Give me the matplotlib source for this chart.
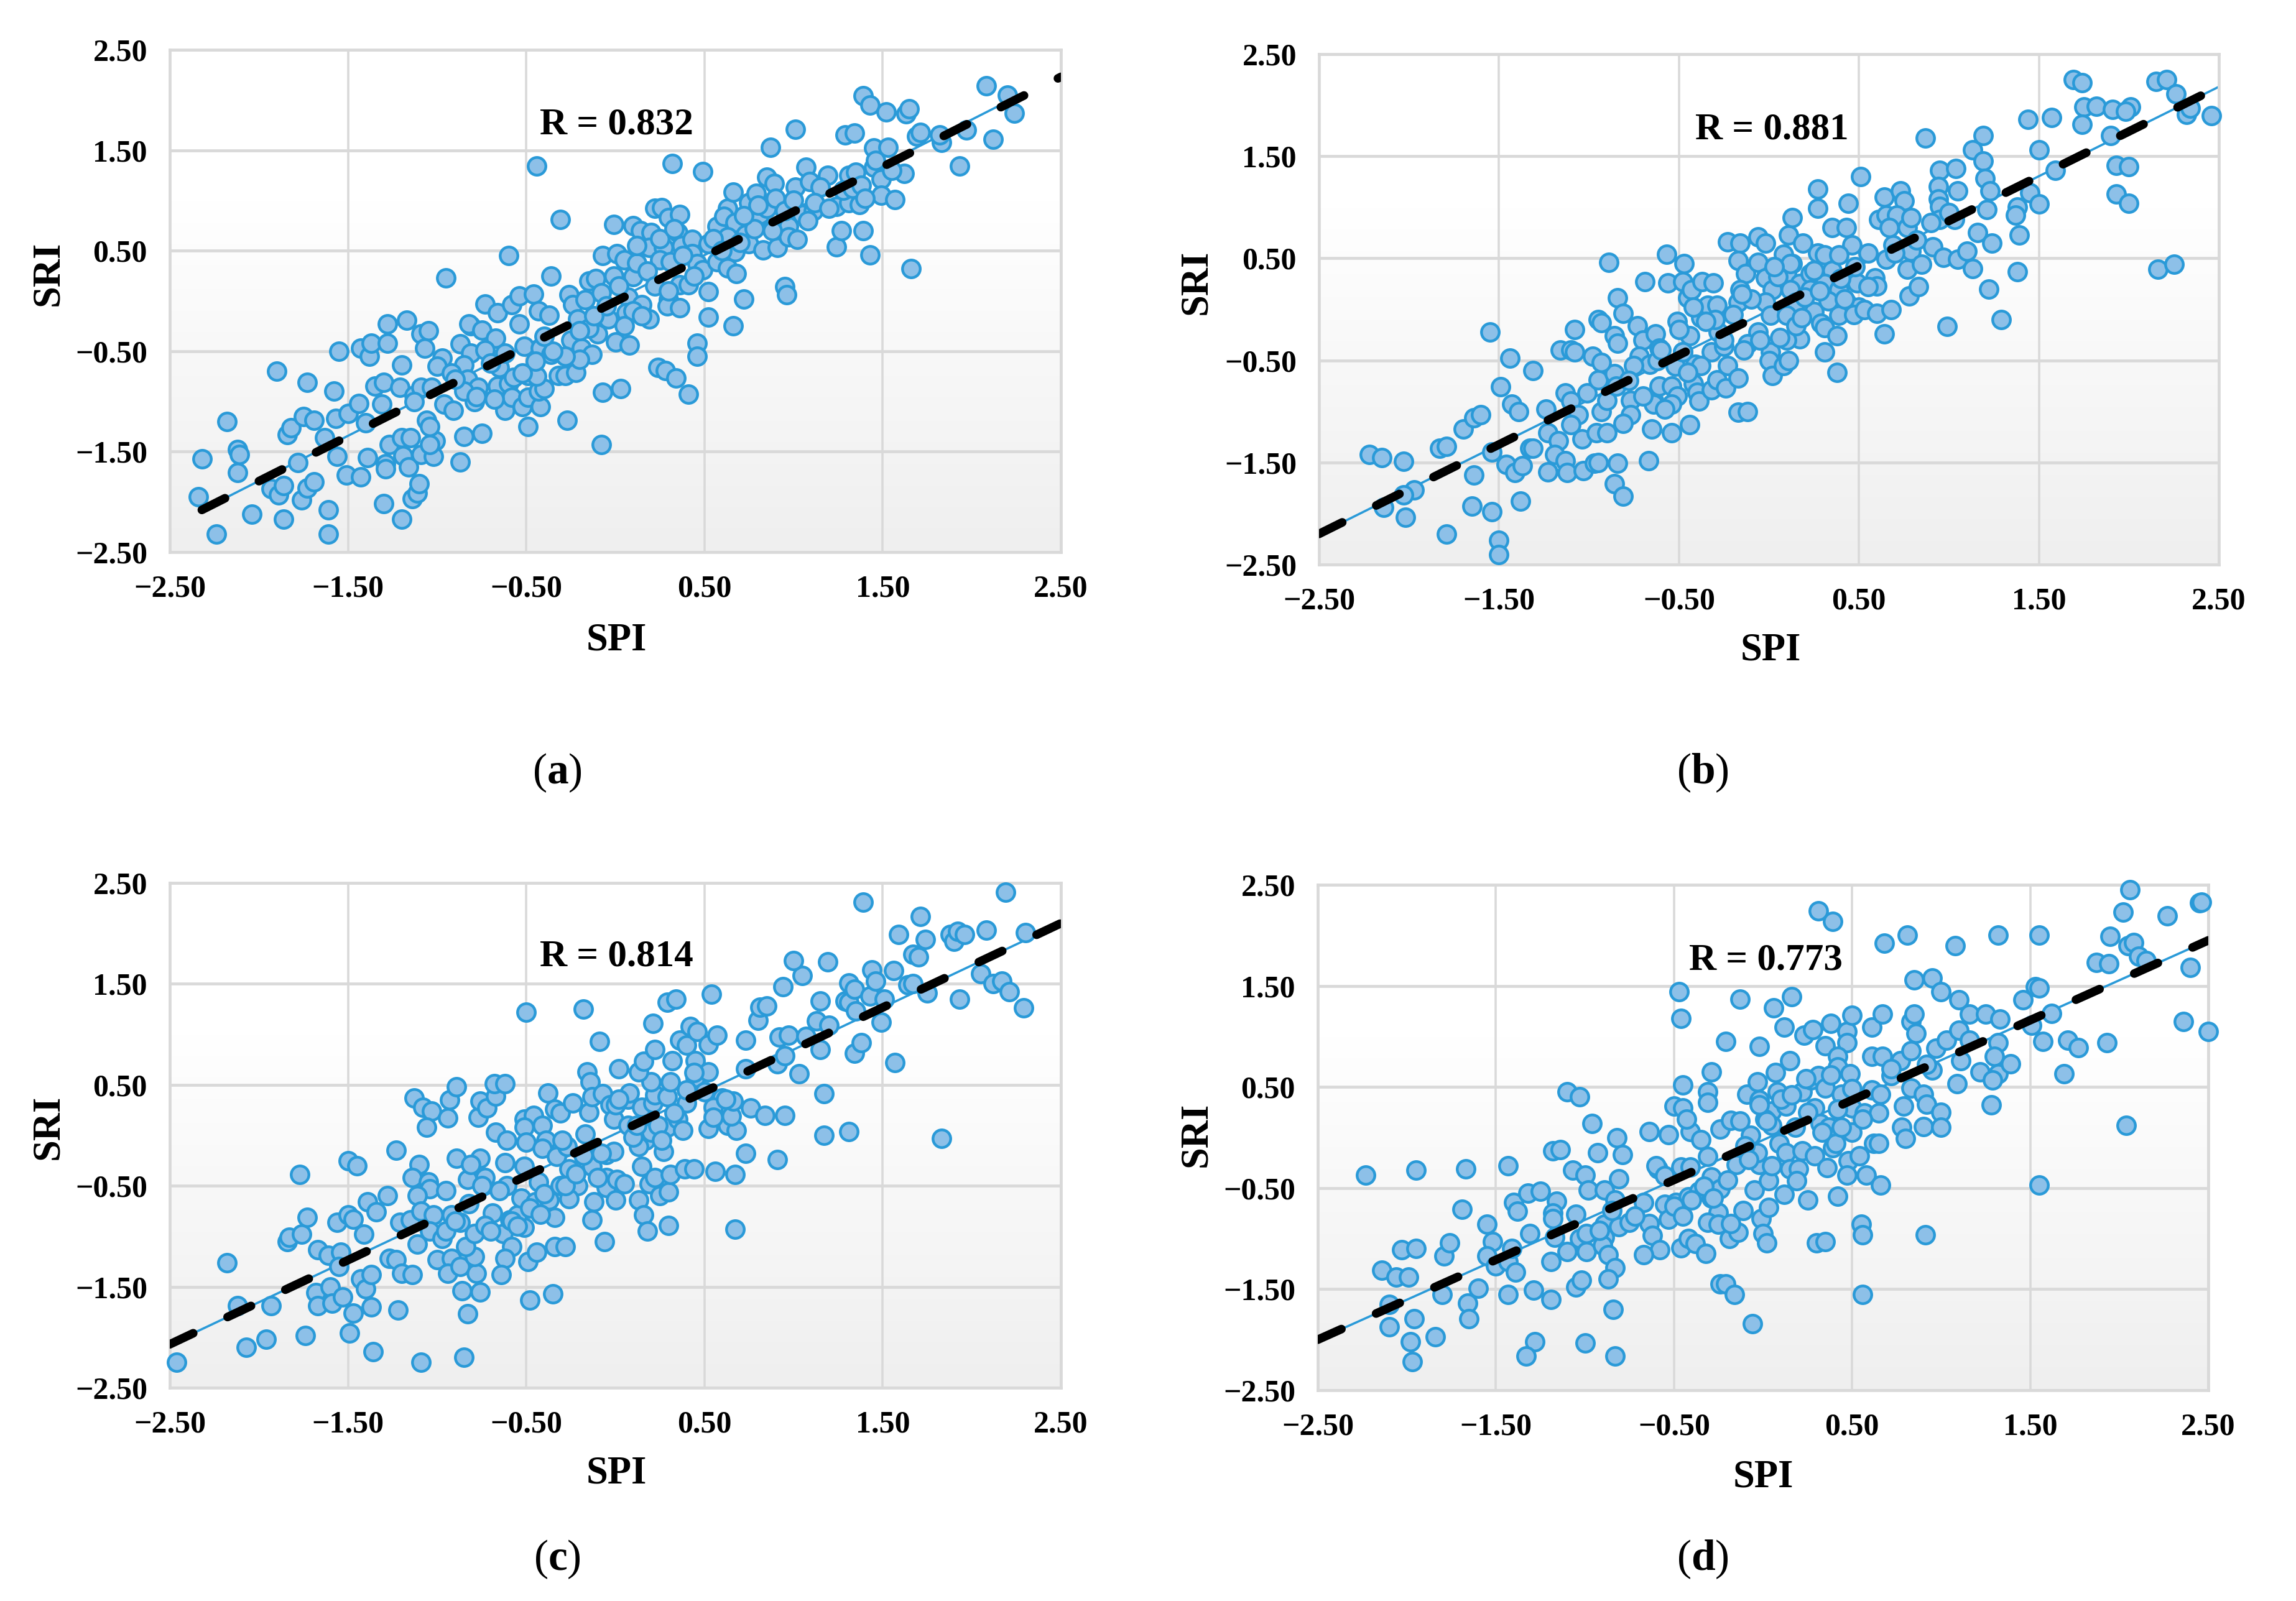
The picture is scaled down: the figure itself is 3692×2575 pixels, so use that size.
# SPI vs SRI scatter panels
import numpy as np
import matplotlib
matplotlib.use('Agg')
import matplotlib.pyplot as plt
from matplotlib.colors import LinearSegmentedColormap

plt.rcParams['font.family'] = ['Liberation Serif', 'DejaVu Serif']
plt.rcParams['mathtext.fontset'] = 'custom'
plt.rcParams['mathtext.rm'] = 'Liberation Serif'
plt.rcParams['mathtext.bf'] = 'Liberation Serif:bold'

W = 3692
H = 2575

# Values
A_SPI = [-2.32,-2.34,-2.24,-2.18,-2.12,-2.11,-2.12,-2.04,-1.93,-1.89,-1.86,-1.86,-1.90,-1.73,-1.84,-1.82,-1.75,-1.69,-1.78,-1.76,
         -1.73,-1.69,-1.61,-1.61,-1.63,-1.58,-1.57,-1.55,-1.56,-1.50,-1.51,-1.43,-1.44,-1.43,-1.38,-1.37,-1.40,-1.39,-1.35,-1.30,
         -1.31,-1.28,-1.28,-1.17,-1.20,-1.21,-1.27,-1.20,-1.15,-1.19,-1.29,-1.29,-1.16,-1.30,-1.20,-1.14,-1.11,-1.10,-1.09,-1.02,
         -1.01,-1.04,-1.06,-1.04,-1.13,-1.09,-1.03,-1.13,-1.09,-1.05,-1.07,-0.97,-1.00,-0.95,-0.96,-0.91,-0.85,-0.87,-0.75,-0.79,
         -0.81,-0.82,-0.75,-0.73,-0.66,-0.67,-0.87,-0.81,-0.85,-0.92,-0.83,-0.77,-0.85,-0.73,-0.65,-0.66,-0.60,-0.57,-0.62,-0.58,
         -0.52,-0.49,-0.42,-0.43,-0.40,-0.49,-0.44,-0.49,-0.27,-0.60,-0.58,-0.54,-0.46,-0.44,-0.54,-0.51,-0.43,-0.36,-0.37,-0.42,
         -0.36,-0.31,-0.32,-0.28,-0.22,-0.26,-0.24,-0.17,-0.21,-0.25,-0.19,-0.13,-0.20,-0.10,-0.15,-0.04,-0.15,-0.11,-0.08,-0.01,
         -0.07,0.01,-0.01,0.10,0.05,0.10,0.07,0.15,0.06,0.10,0.19,0.00,0.08,-0.07,0.03,-0.08,0.24,0.28,0.34,0.41,
         0.46,0.46,0.52,0.52,0.66,0.72,0.95,0.96,0.32,0.49,0.22,0.26,0.30,0.36,0.14,0.20,0.35,0.19,0.27,0.37,
         0.43,0.43,0.52,0.25,0.31,0.46,0.49,0.57,0.63,0.68,0.36,0.41,0.30,0.29,0.36,0.61,0.57,0.63,0.61,0.67,
         0.66,0.73,0.75,0.67,0.63,0.75,0.79,0.81,0.83,0.91,0.85,0.89,0.87,1.01,1.01,0.97,0.97,1.02,1.05,1.07,
         1.09,1.19,1.15,1.11,1.24,1.24,1.27,1.39,1.43,1.31,1.37,1.31,1.35,1.45,1.29,1.34,1.39,1.43,1.52,1.63,
         1.65,1.45,1.53,1.49,1.49,1.57,1.62,1.66,1.69,1.71,1.83,1.82,1.97,1.93,2.08,2.12,2.20,2.24,
         0.55,0.60,0.70,0.78,0.85,0.90,0.95,1.00,0.72,0.80,0.88,1.08,1.12,1.20,1.28,1.33,1.38,1.40,1.46,1.55,
         0.02,0.12,0.18,0.22,0.30,0.15,0.05,-0.05,-0.12,-0.20,-0.28,-0.35,-0.45,-0.52,-0.62,-0.70,-0.78,-0.90,-0.68,-0.40,
         0.38,0.44,0.25,0.33,0.12]
A_SRI = [-1.57,-1.95,-2.32,-1.20,-1.48,-1.53,-1.71,-2.12,-1.87,-1.93,-1.84,-2.17,-0.70,-0.81,-1.33,-1.26,-1.15,-1.19,-1.61,-1.98,
         -1.86,-1.80,-2.08,-2.32,-1.36,-0.90,-1.17,-0.50,-1.55,-1.12,-1.73,-1.75,-1.02,-0.47,-0.55,-0.42,-1.21,-1.56,-0.85,-0.81,
         -1.03,-0.42,-0.23,-0.19,-0.64,-0.86,-1.43,-1.36,-1.36,-1.54,-1.62,-1.67,-1.65,-2.02,-2.17,-1.97,-1.91,-1.82,-1.53,-1.55,
         -1.39,-1.43,-1.19,-1.25,-0.94,-0.86,-0.86,-1.00,-0.33,-0.30,-0.47,-0.57,-0.65,0.23,-1.03,-1.09,-1.35,-1.60,-1.32,-1.00,
         -0.25,-0.23,-0.29,-0.03,-0.12,-0.37,-0.43,-0.52,-0.64,-0.72,-0.78,-0.86,-0.90,-0.49,-0.66,-0.85,-0.82,-0.76,-1.09,-0.96,
         -1.05,-0.96,-1.05,-0.90,-0.87,-0.74,-0.75,-1.25,-1.19,0.45,-0.04,0.05,0.07,1.34,-0.23,-0.45,-0.10,0.25,-0.14,-0.47,
         -0.53,0.81,-0.74,-0.74,-0.71,0.06,-0.04,0.01,-0.18,-0.39,-0.47,-0.53,-0.58,-0.33,-0.27,-0.18,0.20,0.22,0.08,0.25,
         0.45,0.47,0.76,0.75,0.41,0.24,0.04,-0.04,-0.12,-0.10,-0.18,-0.41,-0.44,-0.91,-0.87,-1.43,-0.66,-0.69,-0.77,-0.93,
         -0.42,-0.55,-0.16,0.09,-0.25,0.02,0.14,0.06,1.37,1.29,0.92,0.93,0.83,0.86,0.70,0.68,0.68,0.53,0.53,0.55,
         0.61,0.47,0.57,0.41,0.39,0.37,0.31,0.39,0.33,0.27,0.16,0.16,0.01,-0.05,-0.07,0.74,0.74,0.92,0.84,0.78,
         1.08,0.66,0.57,0.49,0.64,0.98,1.07,0.86,0.51,0.53,1.23,1.17,1.53,1.71,1.13,0.74,0.64,0.61,0.86,1.33,
         1.19,1.25,1.13,0.90,0.94,0.54,0.70,0.70,0.46,0.98,0.96,1.25,1.28,1.33,1.65,1.67,2.04,1.95,1.88,1.86,
         1.91,1.52,1.53,1.21,1.05,1.01,1.27,0.32,1.64,1.68,1.58,1.65,1.70,1.34,2.14,1.61,2.05,1.87,
         0.62,0.50,0.58,0.72,0.92,1.02,0.90,1.00,0.85,0.95,0.70,0.80,0.98,0.92,1.10,1.12,1.15,1.02,1.40,1.30,
         0.15,0.38,0.30,0.15,0.10,-0.15,-0.25,-0.05,-0.15,-0.30,-0.55,-0.50,-0.60,-0.72,-0.52,-0.62,-0.95,-0.78,-0.98,-0.35,
         0.45,0.25,0.62,0.72,0.55]

B_SPI = [-2.22,-2.15,-2.03,-1.97,-2.03,-2.14,-2.02,-1.79,-1.83,-1.79,-1.70,-1.64,-1.60,-1.55,-1.64,-1.65,-1.54,-1.50,-1.50,-1.54,
         -1.46,-1.41,-1.37,-1.38,-1.49,-1.43,-1.39,-1.44,-1.31,-1.33,-1.31,-1.24,-1.23,-1.17,-1.19,-1.23,-1.13,-1.12,-1.03,-0.97,
         -0.95,-0.84,-0.67,-0.86,-0.81,-1.16,-1.10,-1.08,-1.08,-1.13,-1.10,-1.01,-1.06,-1.10,-1.04,-0.96,-0.90,-0.93,-0.90,-0.95,
         -0.86,-0.98,-0.93,-0.95,-0.93,-0.89,-0.84,-0.81,-0.86,-0.84,-0.73,-0.69,-0.70,-0.72,-0.66,-0.77,-0.77,-0.81,-0.65,-0.64,
         -0.64,-0.61,-0.54,-0.51,-0.54,-0.54,-0.44,-0.63,-0.61,-0.62,-0.51,-0.57,-0.56,-0.47,-0.48,-0.45,-0.43,-0.44,-0.48,-0.52,
         -0.41,-0.42,-0.40,-0.39,-0.38,-0.37,-0.31,-0.34,-0.29,-0.28,-0.32,-0.25,-0.32,-0.29,-0.23,-0.24,-0.17,-0.17,-0.12,-0.23,
         -0.16,-0.17,-0.13,-0.16,-0.17,-0.06,-0.06,-0.02,-0.02,0.02,-0.02,0.01,-0.06,-0.12,-0.14,0.01,0.00,0.02,0.08,0.11,
         0.08,0.11,0.13,0.19,0.13,0.10,0.17,0.12,0.15,0.10,0.17,0.10,0.15,0.27,0.27,0.27,0.31,0.23,0.35,0.23,
         0.31,0.25,0.29,0.31,0.38,0.31,0.38,0.35,0.43,0.44,0.46,0.39,0.51,0.55,0.49,0.39,0.43,0.50,0.39,0.47,
         0.53,0.60,0.68,0.64,0.59,0.60,0.65,0.69,0.61,0.65,0.64,0.73,0.75,0.71,0.67,0.77,0.79,0.79,0.77,0.78,
         0.83,0.85,0.87,0.91,0.95,0.94,0.94,0.95,0.95,0.97,0.99,1.04,1.05,1.03,1.05,1.10,1.13,1.13,1.19,1.19,
         1.20,1.23,1.21,1.16,1.24,1.22,1.29,1.38,1.37,1.39,1.38,1.44,1.45,1.50,1.50,1.57,1.59,1.69,1.74,1.75,
         1.74,1.82,1.91,1.90,1.93,2.00,1.93,2.00,2.01,1.98,2.15,2.21,2.26,2.16,2.25,2.32,2.34,2.46,
         -0.85,-0.75,-0.60,-0.50,-0.38,-0.30,-0.20,-0.10,-0.05,0.05,0.12,0.20,0.25,0.33,0.40,0.48,0.55,-0.70,-0.58,-0.45,
         -0.25,-0.35,0.06,0.18,0.28,0.42,0.70,0.82,0.90,1.00,-0.78,-0.48,-0.15,0.03,-0.42]
B_SRI = [-1.42,-1.45,-1.49,-1.77,-1.82,-1.94,-2.04,-2.20,-1.36,-1.34,-1.17,-1.06,-1.03,-0.22,-1.62,-1.93,-1.98,-2.26,-2.40,-1.40,
         -1.52,-1.60,-1.53,-1.88,-0.76,-0.93,-1.00,-0.48,-0.60,-1.36,-1.36,-0.98,-1.21,-1.29,-1.42,-1.59,-1.48,-1.60,-1.58,-1.51,
         -1.50,-1.51,-1.48,-1.71,-1.83,-0.40,-0.40,-0.42,-0.20,-0.82,-0.90,-0.82,-1.03,-1.13,-1.27,-1.21,-1.21,-1.00,-0.89,-0.69,
         -0.63,-0.46,-0.52,-0.10,-0.13,0.46,0.11,-0.04,-0.26,-0.33,-0.16,0.27,-0.30,-0.46,-0.54,-0.89,-1.03,-1.12,-1.17,-0.89,
         -0.93,-0.75,-0.75,-0.85,-0.93,-1.21,-1.13,-0.24,-0.38,-0.50,-0.12,0.54,0.26,0.45,0.27,0.11,0.19,-0.26,-0.42,-0.56,
         -0.54,-0.73,-0.81,-0.90,-0.08,0.27,0.26,0.04,0.04,-0.22,-0.42,-0.36,-0.79,-0.69,-0.55,-0.77,-0.67,-1.01,-1.00,0.66,
         0.65,0.48,0.35,0.19,0.07,0.46,0.71,0.65,0.31,0.19,0.07,-0.06,-0.22,-0.34,-0.40,-0.42,-0.50,-0.65,-0.55,-0.50,
         0.54,0.73,0.90,0.65,0.45,0.35,0.25,0.19,0.07,-0.06,-0.29,-0.30,-0.16,0.99,1.18,0.55,0.53,0.35,0.38,0.19,
         0.25,-0.02,-0.14,-0.18,-0.26,-0.42,-0.62,0.80,0.80,1.04,0.63,0.53,1.30,0.55,0.26,0.19,0.07,0.02,-0.06,-0.05,
         0.00,-0.04,0.00,-0.24,0.31,0.23,0.49,0.63,0.88,0.92,1.10,1.16,1.06,0.92,0.80,0.80,0.90,0.57,0.39,0.13,
         0.22,0.44,1.68,0.61,1.36,1.20,1.08,1.01,0.88,0.51,-0.17,1.38,1.16,0.88,0.49,0.57,0.40,1.56,1.70,1.45,
         1.28,1.16,0.98,0.75,0.65,0.20,-0.10,1.00,0.92,0.73,0.37,1.86,1.14,1.03,1.56,1.88,1.36,2.25,2.22,1.98,
         1.81,1.99,1.96,1.70,1.41,1.40,1.13,1.04,1.98,1.94,2.23,2.25,2.11,0.39,0.44,1.91,1.97,1.90,
         -0.75,-0.55,-0.40,-0.20,-0.55,-0.10,-0.05,0.10,-0.30,0.32,0.45,0.12,0.38,0.08,0.30,0.42,0.22,-0.85,-0.98,-0.62,
         -0.30,-0.12,-0.28,-0.08,0.18,0.10,0.55,0.68,0.85,0.95,-0.70,-0.42,0.15,0.42,0.02]

C_SPI = [-2.46,-2.18,-2.12,-1.93,-2.07,-1.96,-1.77,-1.84,-1.83,-1.76,-1.73,-1.74,-1.67,-1.61,-1.68,-1.67,-1.60,-1.59,-1.53,-1.56,
         -1.50,-1.47,-1.50,-1.45,-1.54,-1.55,-1.49,-1.47,-1.41,-1.43,-1.40,-1.37,-1.37,-1.36,-1.39,-1.34,-1.28,-1.27,-1.23,-1.20,
         -1.14,-1.22,-1.23,-1.13,-1.08,-1.03,-1.06,-0.93,-0.89,-0.94,-1.10,-1.14,-1.05,-1.04,-1.11,-0.95,-1.21,-1.15,-1.09,-1.02,
         -1.11,-1.04,-0.97,-1.00,-0.92,-0.94,-0.87,-1.09,-0.85,-0.83,-0.86,-0.76,-0.78,-0.79,-0.84,-0.79,-0.87,-0.92,-0.83,-0.89,
         -0.76,-0.73,-0.81,-0.77,-0.76,-0.72,-0.67,-0.68,-0.62,-0.67,-0.61,-0.62,-0.61,-0.69,-0.73,-0.63,-0.59,-0.58,-0.62,-0.64,
         -0.49,-0.44,-0.48,-0.35,-0.51,-0.55,-0.53,-0.50,-0.51,-0.46,-0.51,-0.41,-0.50,-0.39,-0.41,-0.51,-0.43,-0.45,-0.37,-0.34,
         -0.34,-0.28,-0.38,-0.34,-0.31,-0.24,-0.18,-0.33,-0.27,-0.26,-0.31,-0.21,-0.26,-0.15,-0.16,-0.14,-0.13,-0.17,-0.13,-0.05,
         -0.01,-0.09,0.02,-0.07,-0.03,-0.01,0.07,-0.12,-0.13,-0.06,-0.05,-0.05,0.01,0.05,0.00,0.13,0.16,0.18,0.30,0.67,
         0.15,0.19,0.22,0.25,0.30,0.31,0.39,0.44,0.56,0.67,0.73,0.91,0.27,0.17,0.13,0.20,0.29,0.35,0.07,0.15,
         0.21,0.22,0.29,0.20,0.31,0.13,0.16,0.22,0.21,0.29,0.34,0.32,0.36,0.40,0.42,0.46,0.45,0.45,0.52,0.40,
         0.50,0.52,0.57,0.54,0.52,0.63,0.68,0.65,0.66,0.60,0.55,0.76,0.84,0.95,0.73,0.73,0.80,0.81,0.85,0.92,
         0.97,0.91,0.95,1.03,0.94,1.05,1.00,1.19,1.17,1.17,1.31,1.15,1.13,1.20,1.15,1.07,1.34,1.38,1.29,1.31,
         1.31,1.34,1.35,1.43,1.49,1.39,1.44,1.46,1.51,1.56,1.57,1.59,1.64,1.67,1.67,1.70,1.71,1.74,1.75,1.83,
         1.88,1.90,1.92,1.96,1.93,2.05,2.08,2.12,2.17,2.21,2.19,2.29,2.30,
         -0.95,-0.82,-0.70,-0.58,-0.48,-0.40,-0.28,-0.18,-0.08,0.00,0.08,0.10,0.24,0.33,0.40,-0.55,-0.65,-0.42,-0.22,0.12,
         0.26,0.38,-0.90,-0.75,0.44,-0.10,0.02,-0.30,0.55,0.62]
C_SRI = [-2.25,-1.26,-1.69,-1.69,-2.10,-2.02,-0.39,-1.05,-1.01,-0.98,-0.81,-1.98,-1.13,-1.19,-1.56,-1.69,-1.50,-1.66,-1.60,-0.86,
         -0.79,-0.83,-0.25,-0.30,-1.16,-1.30,-1.96,-1.76,-0.98,-1.42,-1.52,-1.38,-1.70,-2.14,-0.66,-0.76,-0.60,-1.22,-1.23,-1.37,
         -1.38,-1.73,-0.15,0.37,0.28,0.24,0.08,0.35,0.48,0.17,-0.29,-0.42,-0.46,-0.53,-0.60,-0.55,-0.86,-0.84,-0.75,-0.79,
         -1.08,-0.95,-1.02,-1.23,-1.22,-1.37,-1.30,-2.25,-2.20,-1.77,-1.54,-1.55,-1.37,-1.20,-1.10,-0.97,-0.86,-0.79,-0.44,-0.23,
         -0.23,-0.42,-0.29,0.18,0.34,0.27,0.39,0.51,0.51,0.03,-0.05,-0.27,-0.50,-0.77,-0.89,-0.97,-0.84,-1.10,-1.22,-1.38,
         -1.25,-1.16,-1.63,-1.57,-0.91,-0.79,-0.62,1.22,0.16,0.20,0.08,0.10,-0.07,-0.05,-0.13,-0.31,-0.46,-0.66,-0.64,-0.81,
         -1.10,-1.10,0.42,0.26,0.22,0.32,1.25,-0.21,-0.11,-0.33,-0.50,-0.50,-0.63,0.23,0.63,0.53,0.38,0.01,-0.31,-0.19,
         -0.16,0.93,0.66,0.41,0.30,0.16,0.10,-0.66,-0.84,-1.05,-0.42,-0.52,-0.44,-0.48,-0.64,-0.64,-0.79,-0.95,-0.89,-0.93,
         -0.31,-0.48,-0.42,-0.60,-0.56,-0.39,-0.33,-0.33,-0.36,-0.39,-0.18,-0.24,-0.16,-0.05,-0.11,0.03,0.08,0.16,0.36,0.28,
         0.32,0.40,0.38,0.53,0.53,0.63,0.73,0.85,1.11,1.32,1.35,0.74,0.94,0.89,1.08,1.03,0.74,0.57,0.63,0.32,
         0.43,0.90,0.99,1.40,0.07,0.10,0.05,0.19,0.34,0.37,0.28,0.27,0.20,0.20,0.66,0.94,1.14,1.27,1.28,0.97,
         0.99,0.71,0.79,0.61,1.47,1.58,1.73,1.72,0.41,0.00,0.04,1.33,1.13,1.09,0.85,0.98,0.81,0.92,1.33,1.32,
         1.51,1.45,1.23,1.38,1.12,2.31,1.64,1.53,1.35,1.63,0.72,1.99,1.49,1.50,1.79,1.77,2.17,1.94,1.41,-0.03,
         1.99,1.92,2.02,1.99,1.35,1.60,2.03,1.50,1.53,1.42,2.41,1.26,2.01,
         -0.95,-0.68,-0.95,-0.85,-0.72,-0.58,-0.50,-0.20,-0.18,0.30,0.42,-0.02,0.10,0.22,0.45,-0.90,-0.55,-0.78,-0.38,0.10,
         -0.05,0.05,-0.85,-0.50,0.62,-0.42,0.36,-0.05,0.18,0.36]

D_SPI = [-2.23,-1.95,-1.67,-1.43,-2.14,-2.06,-1.99,-2.03,-1.95,-2.10,-2.10,-1.96,-1.98,-1.97,-1.84,-1.80,-1.79,-1.76,-1.69,-1.66,
         -1.65,-1.60,-1.55,-1.52,-1.55,-1.50,-1.43,-1.41,-1.39,-1.43,-1.40,-1.38,-1.32,-1.25,-1.31,-1.29,-1.19,-1.19,-1.28,-1.33,
         -1.16,-1.18,-1.18,-1.14,-1.18,-1.17,-1.10,-1.10,-1.03,-1.07,-1.00,-0.98,-1.05,-1.03,-0.99,-0.99,-1.05,-1.02,-1.00,-0.96,
         -0.93,-0.89,-0.82,-0.79,-0.81,-0.83,-0.89,-0.81,-0.89,-0.90,-0.87,-0.83,-0.87,-0.84,-0.83,-0.75,-0.67,-0.64,-0.53,-0.64,
         -0.62,-0.58,-0.67,-0.59,-0.55,-0.53,-0.49,-0.46,-0.42,-0.38,-0.32,-0.50,-0.45,-0.45,-0.47,-0.46,-0.41,-0.43,-0.35,-0.31,
         -0.29,-0.31,-0.21,-0.13,-0.46,-0.41,-0.42,-0.36,-0.29,-0.31,-0.29,-0.24,-0.25,-0.31,-0.25,-0.19,-0.14,-0.24,-0.21,-0.16,
         -0.06,-0.24,-0.18,-0.13,-0.15,-0.11,-0.01,0.03,0.00,0.02,-0.05,0.03,-0.02,-0.03,-0.07,-0.09,-0.03,-0.02,0.08,0.06,
         0.16,0.12,-0.02,0.07,0.15,0.05,0.13,0.05,0.01,0.09,0.13,0.15,0.20,0.19,0.12,0.25,0.22,0.29,0.36,0.39,
         0.48,0.47,0.42,0.54,0.58,0.66,0.62,0.65,0.30,0.35,0.55,0.56,0.56,0.91,1.55,0.22,0.27,0.31,0.35,0.29,
         0.32,0.37,0.41,0.44,0.50,0.50,0.31,0.39,0.23,0.28,0.35,0.38,0.47,0.47,0.50,0.42,0.42,0.49,0.61,0.67,
         0.61,0.67,0.61,0.66,0.57,0.65,0.68,0.72,0.79,0.78,0.80,0.81,0.77,0.83,0.83,0.83,0.85,0.86,0.85,0.90,
         0.92,0.90,0.95,1.00,1.00,1.00,0.97,0.95,1.08,1.10,1.09,1.11,1.03,1.10,1.16,1.25,1.16,1.22,1.32,1.33,
         1.32,1.30,1.32,1.29,1.28,1.39,1.46,1.53,1.55,1.55,1.51,1.57,1.62,1.69,1.71,1.77,1.87,1.94,1.93,1.95,
         2.02,2.06,2.04,2.05,2.08,2.11,2.15,2.27,2.36,2.40,2.45,2.46,2.50,
         -0.92,-0.72,-0.60,-0.50,-0.40,-0.33,-0.20,-0.10,-0.02,0.10,0.18,0.25,0.33,0.42,0.50,0.56,-0.85,-0.55,-0.28,-0.08,
         0.02,0.16,0.24,0.38,0.72,0.92,-0.45,-0.18,0.05,0.44]
D_SRI = [-0.37,-0.32,-0.31,-0.28,-1.31,-1.38,-1.38,-1.11,-1.10,-1.65,-1.87,-1.79,-2.02,-2.22,-1.97,-1.55,-1.17,-1.04,-0.71,-1.64,
         -1.79,-1.49,-0.86,-1.03,-1.17,-1.27,-1.23,-1.10,-1.33,-1.55,-0.64,-0.73,-0.55,-0.53,-0.95,-1.51,-1.23,-1.60,-2.02,-2.16,
         -0.63,-0.75,-0.13,-0.12,-0.80,-0.99,-1.13,0.45,0.40,-0.32,-0.37,-0.52,-0.76,-1.00,-1.13,-0.95,-1.48,-1.41,-2.03,0.14,
         -0.15,-0.52,0.00,-0.17,-0.41,-0.62,-0.86,-0.88,-0.99,-1.07,-1.16,-1.29,-1.40,-1.70,-2.16,-0.84,-0.64,0.06,0.03,-0.85,
         -0.97,-1.11,-1.16,-0.31,-0.66,-0.81,-0.64,-1.09,-1.00,-1.05,-1.15,0.31,0.29,0.52,1.44,1.18,0.06,0.18,-0.02,0.45,
         0.65,0.35,0.95,1.37,-0.29,-0.29,-0.59,-0.53,-0.60,-0.19,-0.39,-0.51,-0.74,-0.84,-0.86,-1.00,-0.94,-1.45,-1.45,-1.55,
         -1.84,0.08,0.17,0.16,-0.27,-0.72,-0.80,-0.69,-0.95,-1.04,-0.52,-0.43,-0.27,-0.15,0.02,0.43,0.55,0.37,0.45,1.28,
         1.39,1.09,0.90,0.64,0.76,0.26,0.31,0.12,0.18,-0.06,-0.15,-0.31,-0.31,-0.43,-0.56,-0.62,-0.13,-0.18,-0.30,-0.10,
         -0.23,-0.37,-0.58,-0.18,-0.37,-0.47,-0.06,-0.06,-1.04,-1.03,-0.86,-0.96,-1.55,-0.96,-0.47,0.45,0.57,0.61,0.49,0.29,
         0.14,0.10,-0.06,0.43,0.29,0.05,2.24,2.14,1.01,1.07,0.91,1.13,1.05,0.94,1.21,0.80,0.70,0.63,1.09,1.22,
         0.80,0.80,0.47,0.43,0.24,0.24,1.92,0.61,0.31,0.10,-0.01,2.00,0.76,0.86,0.49,1.15,1.22,1.03,1.56,0.43,
         0.33,0.11,1.58,1.44,0.25,0.10,0.88,0.67,1.90,1.36,0.53,0.76,0.96,1.06,1.22,1.22,0.96,0.65,2.00,1.17,
         0.94,0.80,0.63,0.57,0.32,0.73,1.36,1.49,1.48,2.00,1.11,0.95,1.23,0.63,0.96,0.89,1.73,1.72,0.94,1.99,
         2.23,2.45,0.12,1.90,1.93,1.79,1.75,2.19,1.15,1.68,2.32,2.33,1.05,
         -0.92,-0.78,-0.28,-0.68,-0.62,-0.48,-0.42,-0.08,0.32,0.38,0.10,0.25,0.05,0.28,0.48,0.18,-0.72,-0.38,-0.60,-0.22,
         0.16,0.42,0.58,0.62,0.68,0.72,-0.78,-0.85,-0.28,0.10]

FIT_X = [[-2.32, 2.25], [-2.50, 2.50], [-2.50, 2.50], [-2.50, 2.50]]
FIT_Y = [[-2.08, 2.03], [-2.20, 2.18], [-2.07, 2.10], [-2.00, 1.95]]
DASH_X = [[-2.32, 2.50], [-2.50, 2.50], [-2.50, 2.50], [-2.50, 2.50]]
DASH_Y = [[-2.08, 2.23], [-2.20, 2.18], [-2.07, 2.10], [-2.00, 1.95]]

R_LABELS = ['R = 0.832', 'R = 0.881', 'R = 0.814', 'R = 0.773']
CAPTIONS = ['a', 'b', 'c', 'd']
TICKS = [-2.5, -1.5, -0.5, 0.5, 1.5, 2.5]
TICK_LABELS = ['\u22122.50', '\u22121.50', '\u22120.50', '0.50', '1.50', '2.50']

SPI_ALL = [A_SPI, B_SPI, C_SPI, D_SPI]
SRI_ALL = [A_SRI, B_SRI, C_SRI, D_SRI]

# axes boxes in pixels: left, right, top, bottom
BOXES = [(273, 1706, 80, 888), (2121, 3568, 87, 908), (273, 1706, 1420, 2232), (2119, 3551, 1423, 2236)]
# pixel centres of the other text
SPI_POS = [(991, 1031), (2847, 1046), (991, 2371), (2835, 2376)]
SRI_POS = [(78, 440), (1924, 454), (78, 1813), (1924, 1825)]
R_POS = [(991, 201), (2849, 209), (991, 1539), (2840, 1544)]
CAP_POS = [(896, 1243), (2738, 1243), (896, 2508), (2738, 2508)]

BLUE = '#2a9ad8'
FILL = '#8dc0e8'
GRID = '#d9d9d9'
bg_cmap = LinearSegmentedColormap.from_list('bg', [(0, '#efefef'), (0.7, '#ffffff'), (1, '#ffffff')])
gradient = np.linspace(1, 0, 256).reshape(-1, 1)

fig = plt.figure(figsize=(W / 100, H / 100), dpi=100, facecolor='white')

for i in range(4):
    left, right, top, bottom = BOXES[i]
    ax = fig.add_axes([left / W, 1 - bottom / H, (right - left) / W, (bottom - top) / H])
    ax.imshow(gradient, cmap=bg_cmap, vmin=0, vmax=1, extent=(-2.5, 2.5, -2.5, 2.5), aspect='auto', zorder=0)
    ax.set_xlim(-2.5, 2.5)
    ax.set_ylim(-2.5, 2.5)
    ax.set_xticks(TICKS)
    ax.set_yticks(TICKS)
    ax.set_xticklabels(TICK_LABELS, fontsize=36, fontweight='bold')
    ax.set_yticklabels(TICK_LABELS, fontsize=36, fontweight='bold')
    ax.tick_params(length=0, pad=26)
    ax.grid(axis='x', color=GRID, lw=2.6, zorder=1)
    ax.grid(axis='y', color=GRID, lw=3.4, zorder=1)
    ax.set_axisbelow(True)
    for s in ax.spines.values():
        s.set_color(GRID)
        s.set_linewidth(3.4)

    ax.plot(FIT_X[i], FIT_Y[i], color=BLUE, lw=2.6, zorder=2)
    ax.scatter(SPI_ALL[i], SRI_ALL[i], s=420, facecolor=FILL, edgecolor=BLUE, linewidth=3.2, zorder=3, clip_on=False)
    ax.plot(DASH_X[i], DASH_Y[i], color='black', lw=10, linestyle=(0, (3.0, 4.4)), dash_capstyle='round', zorder=4)

    fig.text(SPI_POS[i][0] / W, 1 - SPI_POS[i][1] / H, 'SPI', fontsize=45, fontweight='bold', ha='center', va='center')
    fig.text(SRI_POS[i][0] / W, 1 - SRI_POS[i][1] / H, 'SRI', fontsize=45, fontweight='bold', rotation=90, ha='center', va='center')
    fig.text(R_POS[i][0] / W, 1 - R_POS[i][1] / H, R_LABELS[i], fontsize=44, fontweight='bold', ha='center', va='center')
    fig.text(CAP_POS[i][0] / W, 1 - CAP_POS[i][1] / H, '$\\mathrm{(}\\mathbf{' + CAPTIONS[i] + '}\\mathrm{)}$', fontsize=50, ha='center', va='center')

fig.savefig('out.png', dpi=100)
